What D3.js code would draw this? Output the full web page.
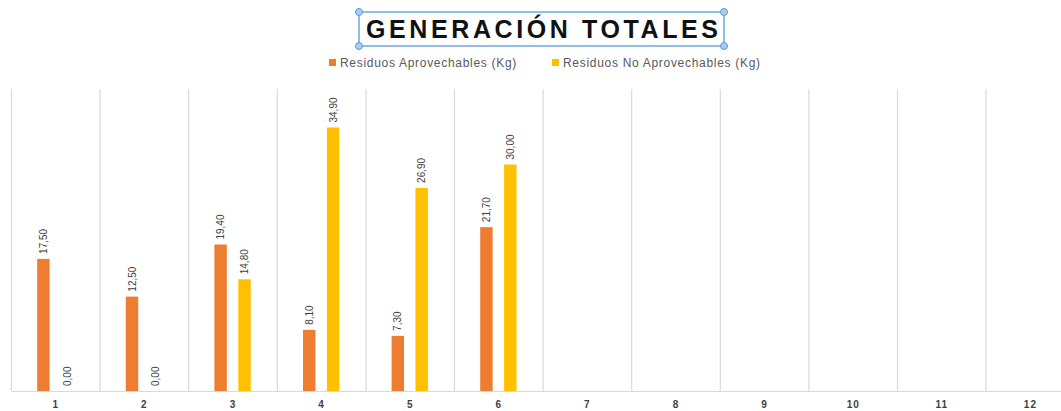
<!DOCTYPE html>
<html>
<head>
<meta charset="utf-8">
<script src="https://cdn.jsdelivr.net/npm/d3@7"></script>
<style>
  body { margin: 0; background: #fff; }
  svg { display: block; }
</style>
</head>
<body>
<div id="content"></div>
<script>
let months = ['1', '2', '3', '4', '5', '6', '7', '8', '9', '10', '11', '12'];
let seriesNames = ['Residuos Aprovechables (Kg)', 'Residuos No Aprovechables (Kg)'];
let aprovechables = [17.5, 12.5, 19.4, 8.1, 7.3, 21.7];
let noAprovechables = [0, 0, 14.8, 34.9, 26.9, 30.0];
let colors = ['#ED7D31', '#FFC000'];

window.addEventListener('load', function () {
    let width = 1061;
    let height = 411;
    let left = 11.5, bottom = 391, top = 89;

    let svg = d3.select('#content').append('svg').attr('width', width).attr('height', height);

    let xScale = d3.scaleBand().domain(months).range([left, left + 88.6 * 12]);
    let bw = xScale.bandwidth();
    let subScale = d3.scaleBand().domain(seriesNames).range([bw * 0.29, bw * 0.70]).paddingInner(0.48);
    let yScale = d3.scaleLinear().domain([0, 40]).range([bottom, top]);

    // vertical grid lines at band edges
    let edges = months.map(m => xScale(m)).concat([xScale('12') + bw]);
    svg.selectAll('line.grid').data(edges).enter().append('line')
        .attr('class', 'grid')
        .attr('x1', d => d).attr('x2', d => d)
        .attr('y1', top).attr('y2', bottom)
        .attr('stroke', '#d9d9d9').attr('stroke-width', 1.2);

    // x axis
    let xAxis = d3.axisBottom(xScale).tickSize(0).tickPadding(10);
    let gx = svg.append('g').attr('transform', `translate(0,${bottom})`).call(xAxis);
    gx.select('.domain').attr('stroke', '#d9d9d9').attr('stroke-width', 1.2);
    gx.selectAll('text')
        .attr('font-family', 'Liberation Sans, Arial, sans-serif')
        .attr('font-size', '10px').attr('font-weight', 'bold')
        .attr('fill', '#404040').attr('letter-spacing', '1px');

    let fmt = v => d3.format('.2f')(v).replace('.', ',');

    let series = [aprovechables, noAprovechables];
    series.forEach((vals, s) => {
        let data = vals.map((v, i) => ({ month: months[i], value: v }));
        let g = svg.append('g');
        g.selectAll('rect').data(data).enter().append('rect')
            .attr('x', d => xScale(d.month) + subScale(seriesNames[s]))
            .attr('y', d => yScale(d.value))
            .attr('width', subScale.bandwidth())
            .attr('height', d => bottom - yScale(d.value))
            .attr('fill', colors[s]);
        g.selectAll('text').data(data).enter().append('text')
            .text(d => fmt(d.value))
            .attr('transform', d => {
                let cx = xScale(d.month) + subScale(seriesNames[s]) + subScale.bandwidth() / 2 + 3.5;
                let cy = yScale(d.value) - 5;
                return `translate(${cx},${cy}) rotate(-90)`;
            })
            .attr('font-family', 'Liberation Sans Narrow, Arial Narrow, sans-serif')
            .attr('font-size', '10px')
            .attr('fill', '#404040');
    });

    // title with selection frame
    svg.append('rect').attr('x', 359).attr('y', 12).attr('width', 365).attr('height', 34)
        .attr('fill', 'none').attr('stroke', '#6fa8dc').attr('stroke-width', 1.5);
    svg.append('text').text('GENERACIÓN TOTALES')
        .attr('x', 366).attr('y', 38)
        .attr('textLength', 352).attr('lengthAdjust', 'spacing')
        .attr('font-family', 'Liberation Sans, Arial, sans-serif')
        .attr('font-size', '25px').attr('font-weight', 'bold').attr('fill', '#111');
    [[359, 12], [724, 12], [359, 46], [724, 46]].forEach(p => {
        svg.append('circle').attr('cx', p[0]).attr('cy', p[1]).attr('r', 3.5)
            .attr('fill', '#a9cdf0').attr('stroke', '#5b9bd5').attr('stroke-width', 1);
    });

    // legend
    let legendX = [329, 552];
    seriesNames.forEach((name, i) => {
        svg.append('rect').attr('x', legendX[i]).attr('y', 59).attr('width', 7).attr('height', 7).attr('fill', colors[i]);
        svg.append('text').text(name).attr('x', legendX[i] + 11).attr('y', 67)
            .attr('font-family', 'Liberation Sans, Arial, sans-serif')
            .attr('font-size', '12px').attr('letter-spacing', '0.7px').attr('fill', '#595959');
    });
});
</script>
</body>
</html>
